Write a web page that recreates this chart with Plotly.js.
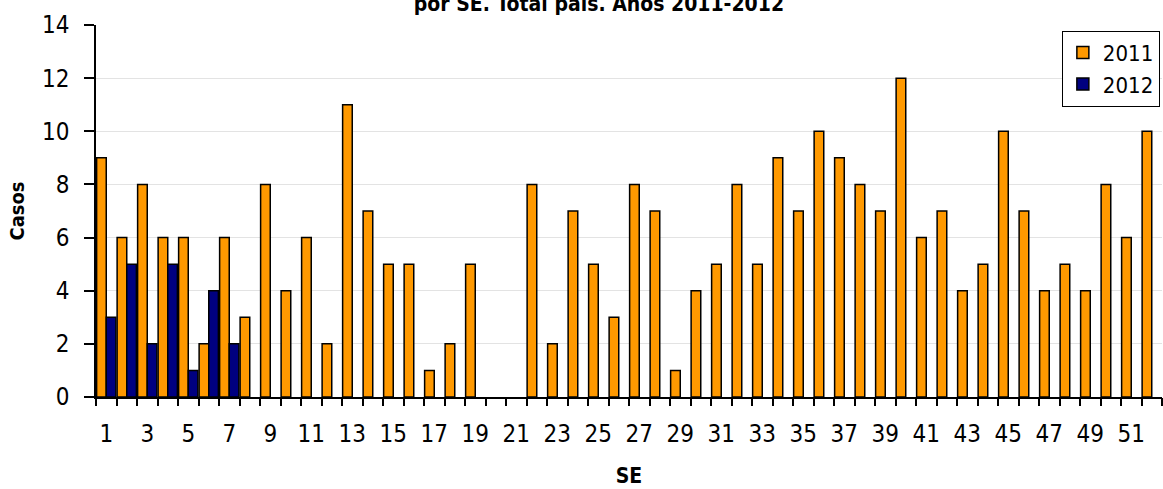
<!DOCTYPE html>
<html>
<head>
<meta charset="utf-8">
<script src="https://cdn.plot.ly/plotly-3.0.1.min.js"></script>
<style>
  body { margin: 0; background: #fff; }
  #chart { width: 1163px; height: 489px; }
</style>
</head>
<body>
<div id="chart"></div>
<script>
// semanas epidemiologicas 1..52
const weeks = [];
for (let i = 1; i <= 52; i++) weeks.push(i);

const casos2011 = [9, 6, 8, 6, 6, 2, 6, 3, 8, 4, 6, 2, 11, 7, 5, 5, 1, 2, 5, 0,
                   0, 8, 2, 7, 5, 3, 8, 7, 1, 4, 5, 8, 5, 9, 7, 10, 9, 8, 7, 12,
                   6, 7, 4, 5, 10, 7, 4, 5, 4, 8, 6, 10];
const weeks2012 = [1, 2, 3, 4, 5, 6, 7];
const casos2012 = [3, 5, 2, 5, 1, 4, 2];

const labelWeeks = weeks.filter(w => w % 2 === 1);
const boundaries = [0.5].concat(weeks.map(w => w + 0.5));

const font = 'DejaVu Sans Condensed, DejaVu Sans, sans-serif';

Plotly.newPlot('chart', [{
    x: weeks,
    y: casos2011,
    type: 'bar',
    name: '2011',
    marker: {
        color: '#ff9900',
        line: { color: '#000000', width: casos2011.map(v => v > 0 ? 1.5 : 0) }
    }
}, {
    x: weeks2012,
    y: casos2012,
    type: 'bar',
    name: '2012',
    marker: { color: '#000080', line: { color: '#000000', width: 1.5 } }
}, {
    // invisible trace, only so the boundary tick axis is drawn
    x: [1], y: [0], type: 'scatter', mode: 'markers',
    marker: { opacity: 0 }, xaxis: 'x2', showlegend: false, hoverinfo: 'skip'
}], {
    title: {
        text: '<b>por SE. Total país. Años 2011-2012</b>',
        font: { family: font, size: 21, color: '#000' },
        x: 0.515, xanchor: 'center',
        y: 0.992, yanchor: 'middle', yref: 'container'
    },
    barmode: 'group',
    bargap: 0.06,
    bargroupgap: 0,
    margin: { l: 96, r: 1, t: 25, b: 92 },
    xaxis: {
        range: [0.5, 52.5],
        tickvals: labelWeeks,
        ticktext: labelWeeks.map(String),
        ticks: '',
        ticklabelstandoff: 14,
        showgrid: false,
        showline: true, linecolor: '#000', linewidth: 1.5,
        zeroline: false,
        tickfont: { family: font, size: 24, color: '#000' },
        title: { text: '<b>SE</b>', font: { family: font, size: 21, color: '#000' }, standoff: 22 }
    },
    xaxis2: {
        overlaying: 'x', matches: 'x', anchor: 'y',
        range: [0.5, 52.5],
        tickvals: boundaries,
        showticklabels: false,
        ticks: 'outside', ticklen: 8, tickwidth: 1.5, tickcolor: '#000',
        showgrid: false, showline: false, zeroline: false
    },
    yaxis: {
        range: [0, 14],
        dtick: 2,
        ticks: 'outside', ticklen: 10, tickwidth: 1.5, tickcolor: '#000',
        ticklabelstandoff: 10,
        showline: true, linecolor: '#000', linewidth: 1.5,
        gridcolor: '#e3e3e3', gridwidth: 1,
        zeroline: false,
        tickfont: { family: font, size: 24, color: '#000' },
        title: { text: '<b>Casos</b>', font: { family: font, size: 20, color: '#000' }, standoff: 12 }
    },
    legend: {
        x: 0.998, xanchor: 'right', y: 0.985, yanchor: 'top',
        bordercolor: '#000', borderwidth: 1, bgcolor: '#fff',
        font: { family: font, size: 22, color: '#000' },
        itemwidth: 30, tracegroupgap: 4
    },
    showlegend: true,
    plot_bgcolor: '#fff',
    paper_bgcolor: '#fff'
}, { displayModeBar: false });
</script>
</body>
</html>
